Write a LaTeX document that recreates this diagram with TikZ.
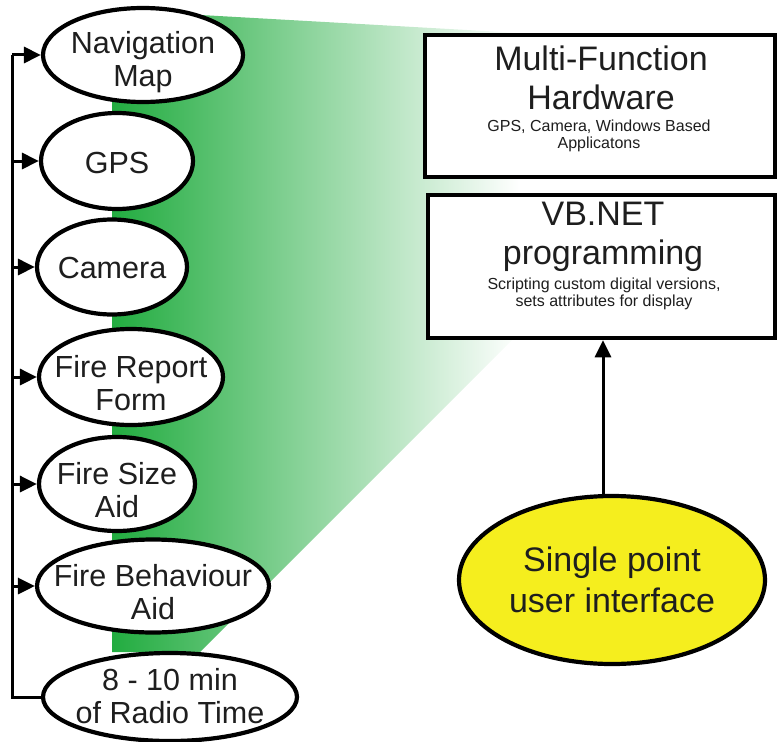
\documentclass[tikz,border=0pt]{standalone}
\usepackage{fontspec}
\setmainfont{Liberation Sans}
\usetikzlibrary{shapes.geometric,arrows.meta}
\definecolor{mygreen}{RGB}{34,172,64}
\definecolor{myyellow}{RGB}{245,238,30}
\definecolor{txt}{RGB}{30,30,30}
\tikzset{
  oval/.style={ellipse,draw=black,line width=4.2pt,fill=white,inner sep=0pt},
  otext/.style={align=center,text=txt,inner sep=0pt,font=\fontsize{30.5}{33}\selectfont},
  hbox/.style={rectangle,draw=black,line width=4.5pt,fill=white,inner sep=0pt},
  big/.style={text=txt,align=center,inner sep=0pt,font=\fontsize{34}{39}\selectfont},
  small/.style={text=txt,align=center,inner sep=0pt,font=\fontsize{16}{17.5}\selectfont},
  conn/.style={line width=3pt,draw=black},
  arr/.style={conn,-{Triangle[length=17pt,width=16pt]}}
}
\begin{document}
\begin{tikzpicture}[x=1pt,y=-1pt]
\useasboundingbox (0,0) rectangle (778,741);
% green fan
\shade[left color=mygreen,right color=white] (112,10) -- (520,33) -- (520,332) -- (200,652) -- (112,652) -- cycle;
% ellipses
\node[oval,minimum width=200pt,minimum height=94pt] (nav) at (143,55) {};
\node[otext] (navt) at ([yshift=-7pt]nav.center) {Navigation\\Map};
\node[oval,minimum width=152pt,minimum height=96pt] (gps) at (117,161) {};
\node[otext] (gpst) at ([yshift=-2pt]gps.center) {GPS};
\node[oval,minimum width=150pt,minimum height=95pt] (cam) at (112,267) {};
\node[otext] (camt) at ([yshift=-1pt]cam.center) {Camera};
\node[oval,minimum width=184pt,minimum height=96pt] (frf) at (131,377) {};
\node[otext] (frft) at ([yshift=-6pt]frf.center) {Fire Report\\Form};
\node[oval,minimum width=156pt,minimum height=94pt] (fsa) at (117,484) {};
\node[otext] (fsat) at ([yshift=-6pt]fsa.center) {Fire Size\\Aid};
\node[oval,minimum width=232pt,minimum height=93pt] (fba) at (153,586) {};
\node[otext] (fbat) at ([yshift=-6pt]fba.center) {Fire Behaviour\\Aid};
\node[oval,minimum width=254pt,minimum height=88pt] (rad) at (170,697) {};
\node[otext] (radt) at ([yshift=1pt]rad.center) {8 - 10 min\\of Radio Time};
% spine and arrows
\coordinate (sp) at (12,0);
\draw[conn] (sp |- nav.west) -- (sp |- rad.west) -- (rad.west);
\foreach \n in {nav,gps,cam,frf,fsa,fba}{
  \draw[arr] (sp |- \n.west) -- (\n.west);
}
% boxes
\node[hbox,minimum width=350pt,minimum height=142pt] (hw) at (600,106) {};
\node[hbox,minimum width=347pt,minimum height=143pt] (vb) at (601.5,266.5) {};
\node[big] (hwt) at (601,78) {Multi-Function\\Hardware};
\node[small] (hws) at (599,136) {GPS, Camera, Windows Based\\Applicatons};
\node[big] (vbt) at (603,237) {VB.NET\\programming};
\node[small] (vbs) at (604,294) {Scripting custom digital versions,\\sets attributes for display};
% yellow ellipse
\node[oval,fill=myyellow,minimum width=306pt,minimum height=168pt] (ui) at (612,580) {};
\node[text=txt,align=center,inner sep=0pt,font=\fontsize{34}{41}\selectfont] (uit) at (ui.center) {Single point\\user interface};
\coordinate (ax) at (603,0);
\draw[arr] (ax |- ui.north) -- (ax |- vb.south);
\end{tikzpicture}
\end{document}
